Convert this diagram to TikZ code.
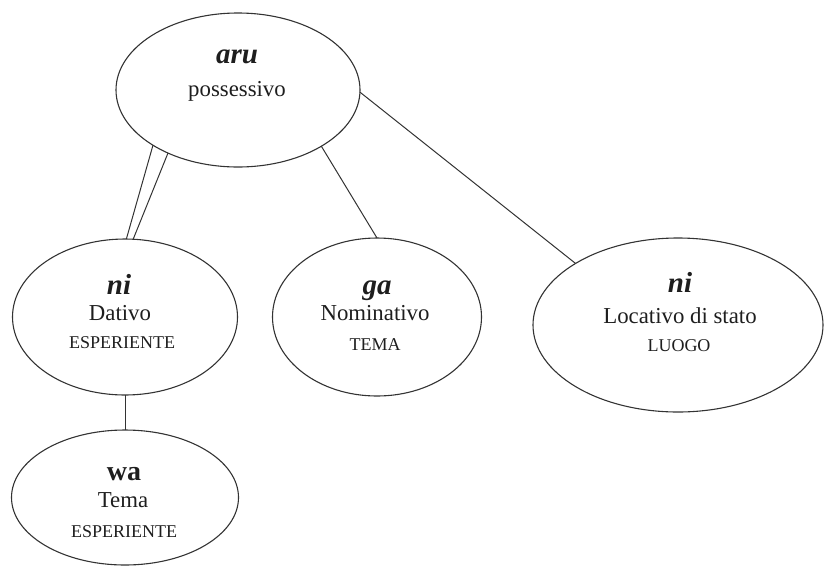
\documentclass[tikz,border=0pt]{standalone}
\usepackage{fontspec}
\setmainfont{Liberation Serif}
\usetikzlibrary{shapes.geometric}
\definecolor{ink}{HTML}{333333}
\definecolor{txt}{HTML}{1E1E1E}
\begin{document}
\begin{tikzpicture}[x=1pt,y=-1pt,
  oval/.style 2 args={ellipse, draw=ink, line width=1.1pt, minimum width=#1,
    minimum height=#2, inner sep=0pt, outer sep=0pt},
  head/.style={anchor=base, text=txt, font=\fontsize{29}{29}\selectfont\bfseries\itshape},
  headup/.style={anchor=base, text=txt, font=\fontsize{28}{28}\selectfont\bfseries},
  body/.style={anchor=base, text=txt, font=\fontsize{22.8}{22.8}\selectfont},
  role/.style={anchor=base, text=txt, font=\fontsize{18}{18}\selectfont},
  link/.style={draw=ink, line width=1pt}]
\useasboundingbox (0,0) rectangle (827,566);

% ellipses
\node[oval={244pt}{154pt}] (aru) at (238,90) {};
\node[oval={225pt}{156pt}] (niD) at (125,317) {};
\node[oval={209pt}{158pt}] (ga)  at (377,317) {};
\node[oval={290pt}{174pt}] (loc) at (678,325) {};
\node[oval={227pt}{135pt}] (wa)  at (125,497.5) {};

% texts
\node[head] (aruA) at (237,63) {aru};
\node[body] (aruB) at (237,96) {possessivo};

\node[head] (niDA) at (119,294) {ni};
\node[body] (niDB) at (120,320) {Dativo};
\node[role] (niDC) at (122,348) {ESPERIENTE};

\node[head] (gaA) at (377,294) {ga};
\node[body] (gaB) at (375,320) {Nominativo};
\node[role] (gaC) at (375,350) {TEMA};

\node[head] (locA) at (680,292) {ni};
\node[body] (locB) at (680,323) {Locativo di stato};
\node[role] (locC) at (679,351) {LUOGO};

\node[headup] (waA) at (124,480) {wa};
\node[body] (waB) at (123,507) {Tema};
\node[role] (waC) at (124,537) {ESPERIENTE};

% connectors
\draw[link] (aru.213) -- (niD.89);
\draw[link] (aru.222) -- (niD.84);
\draw[link] (aru.326) -- (ga.north);
\draw[link] (aru.359) -- (loc.149);
\draw[link] (niD.south) -- (wa.north);
\end{tikzpicture}
\end{document}
